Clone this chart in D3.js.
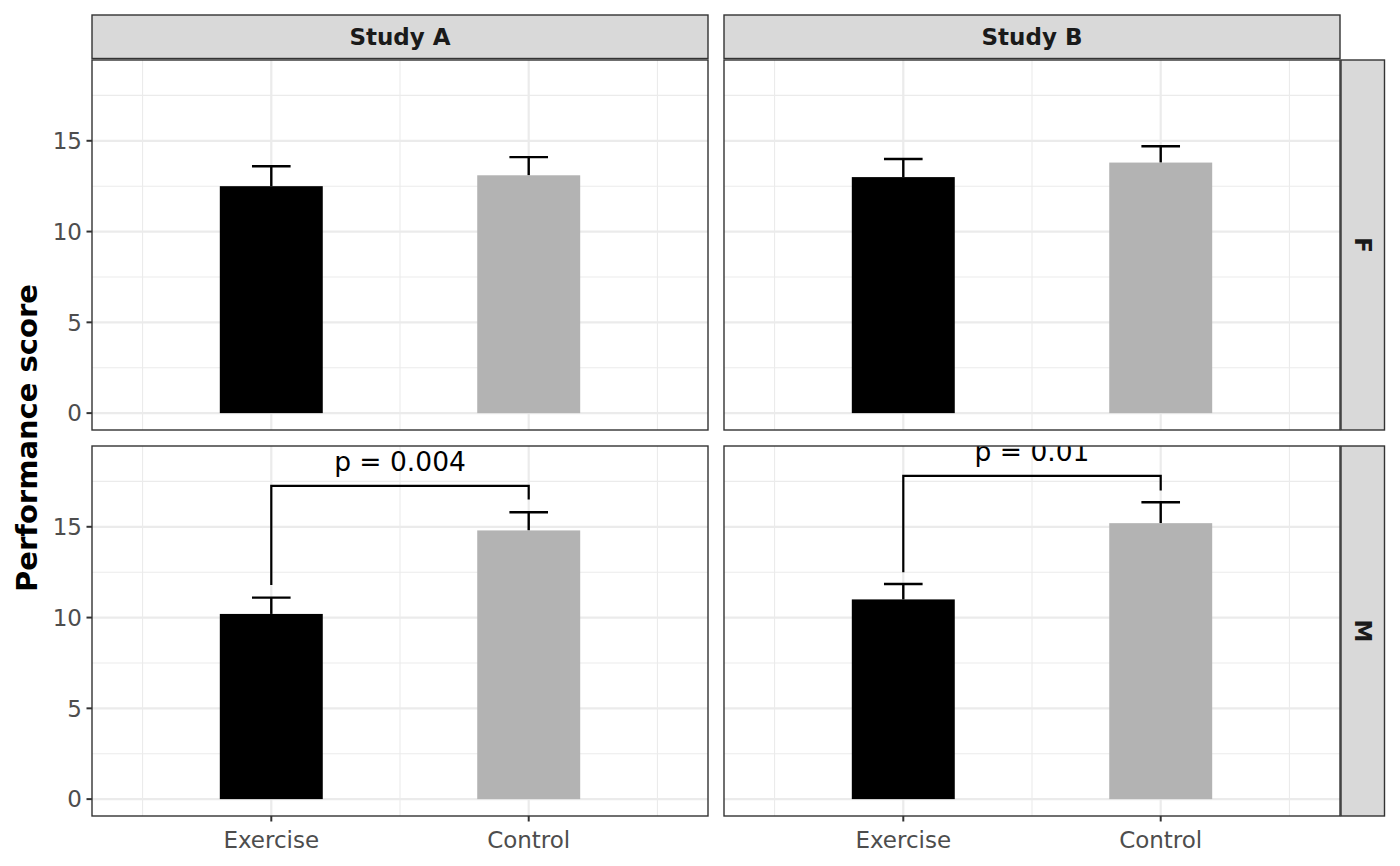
<!DOCTYPE html>
<html><head><meta charset="utf-8">
<script src="https://cdn.jsdelivr.net/npm/d3@7"></script>
<style>body{margin:0;background:#fff}svg{display:block}text{font-family:"DejaVu Sans",sans-serif}</style>
</head><body><svg id="c" width="1400" height="866"></svg>
<script>
const studies = ["Study A", "Study B"];
const sexes = ["F", "M"];
const groups = ["Exercise", "Control"];
const yTicks = [0, 5, 10, 15];
// means and upper error limits, [study][sex][group]
const meanAF = [12.5, 13.1], upperAF = [13.6, 14.1];
const meanBF = [13.0, 13.8], upperBF = [14.0, 14.7];
const meanAM = [10.2, 14.8], upperAM = [11.1, 15.8];
const meanBM = [11.0, 15.2], upperBM = [11.85, 16.35];
const means = {"Study A": {F: meanAF, M: meanAM}, "Study B": {F: meanBF, M: meanBM}};
const uppers = {"Study A": {F: upperAF, M: upperAM}, "Study B": {F: upperBF, M: upperBM}};
// brackets
const brStudy = ["Study A", "Study B"];
const brSex = ["M", "M"];
const brY = [17.25, 17.8];
const brLeft = [11.8, 12.5];
const brRight = [16.5, 17.0];
const brLabel = ["p = 0.004", "p = 0.01"];
const fills = {Exercise: "#000000", Control: "#b3b3b3"};

const svg = d3.select("#c");
const colX = [92, 724], rowY = [60, 446], pw = 616, ph = 370;
const x = d3.scaleLinear().domain([0.3035, 2.6965]).range([0, pw]);
const y = d3.scaleLinear().domain([-0.93, 19.45]).range([ph, 0]);
const defs = svg.append("defs");
defs.append("clipPath").attr("id", "pclip").append("rect").attr("width", pw).attr("height", ph);

studies.forEach((st, ci) => {
  sexes.forEach((sx, ri) => {
    const g = svg.append("g").attr("transform", `translate(${colX[ci]},${rowY[ri]})`);
    const inner = g.append("g").attr("clip-path", "url(#pclip)");
    [2.5, 7.5, 12.5, 17.5].forEach(v => inner.append("line").attr("x1", 0).attr("x2", pw).attr("y1", y(v)).attr("y2", y(v)).attr("stroke", "#ebebeb").attr("stroke-width", 1.1));
    [0.5, 1.5, 2.5].forEach(v => inner.append("line").attr("y1", 0).attr("y2", ph).attr("x1", x(v)).attr("x2", x(v)).attr("stroke", "#ebebeb").attr("stroke-width", 1.1));
    yTicks.forEach(v => inner.append("line").attr("x1", 0).attr("x2", pw).attr("y1", y(v)).attr("y2", y(v)).attr("stroke", "#ebebeb").attr("stroke-width", 2.2));
    groups.forEach((gr, i) => inner.append("line").attr("y1", 0).attr("y2", ph).attr("x1", x(i + 1)).attr("x2", x(i + 1)).attr("stroke", "#ebebeb").attr("stroke-width", 2.2));
    groups.forEach((gr, i) => {
      const u = uppers[st][sx][i], m = means[st][sx][i];
      inner.append("line").attr("x1", x(i + 1)).attr("x2", x(i + 1)).attr("y1", y(m)).attr("y2", y(u)).attr("stroke", "#000").attr("stroke-width", 2.4);
      inner.append("line").attr("x1", x(i + 1 - 0.075)).attr("x2", x(i + 1 + 0.075)).attr("y1", y(u)).attr("y2", y(u)).attr("stroke", "#000").attr("stroke-width", 2.4);
    });
    groups.forEach((gr, i) => {
      const m = means[st][sx][i];
      inner.append("rect").attr("x", x(i + 1 - 0.2)).attr("width", x(i + 1.2) - x(i + 0.8)).attr("y", y(m)).attr("height", y(0) - y(m)).attr("fill", fills[gr]);
    });
    brStudy.forEach((bs, k) => {
      if (bs !== st || brSex[k] !== sx) return;
      inner.append("path").attr("d", `M${x(1)},${y(brLeft[k])}V${y(brY[k])}H${x(2)}V${y(brRight[k])}`).attr("fill", "none").attr("stroke", "#000").attr("stroke-width", 2.2);
      inner.append("text").attr("x", x(1.5)).attr("y", y(brY[k] + 0.8)).attr("text-anchor", "middle").attr("font-size", 26.5).attr("fill", "#000").text(brLabel[k]);
    });
    g.append("rect").attr("width", pw).attr("height", ph).attr("fill", "none").attr("stroke", "#333333").attr("stroke-width", 1.4);
    if (ci === 0) {
      yTicks.forEach(v => {
        g.append("line").attr("x1", -5.5).attr("x2", 0).attr("y1", y(v)).attr("y2", y(v)).attr("stroke", "#333333").attr("stroke-width", 2);
        g.append("text").attr("x", -10).attr("y", y(v)).attr("dy", "0.36em").attr("text-anchor", "end").attr("font-size", 23).attr("fill", "#4d4d4d").text(v);
      });
    }
    if (ri === 1) {
      groups.forEach((gr, i) => {
        g.append("line").attr("y1", ph).attr("y2", ph + 5.5).attr("x1", x(i + 1)).attr("x2", x(i + 1)).attr("stroke", "#333333").attr("stroke-width", 2);
        g.append("text").attr("x", x(i + 1)).attr("y", ph + 32).attr("text-anchor", "middle").attr("font-size", 23).attr("fill", "#4d4d4d").text(gr);
      });
    }
  });
  const s = svg.append("g").attr("transform", `translate(${colX[ci]},15)`);
  s.append("rect").attr("width", pw).attr("height", 43.5).attr("fill", "#d9d9d9").attr("stroke", "#333333").attr("stroke-width", 1.4);
  s.append("text").attr("x", pw / 2).attr("y", 22).attr("dy", "0.36em").attr("text-anchor", "middle").attr("font-size", 23).attr("font-weight", "bold").attr("fill", "#1a1a1a").text(st);
});
sexes.forEach((sx, ri) => {
  const s = svg.append("g").attr("transform", `translate(1341,${rowY[ri]})`);
  s.append("rect").attr("width", 43.5).attr("height", ph).attr("fill", "#d9d9d9").attr("stroke", "#333333").attr("stroke-width", 1.4);
  s.append("text").attr("transform", `translate(22,${ph / 2}) rotate(90)`).attr("dy", "0.36em").attr("text-anchor", "middle").attr("font-size", 23).attr("font-weight", "bold").attr("fill", "#1a1a1a").text(sx);
});
svg.append("text").attr("transform", `translate(27,${(rowY[0] + rowY[1] + ph) / 2}) rotate(-90)`).attr("dy", "0.36em").attr("text-anchor", "middle").attr("font-size", 29).attr("font-weight", "bold").attr("fill", "#000").text("Performance score");
</script></body></html>
